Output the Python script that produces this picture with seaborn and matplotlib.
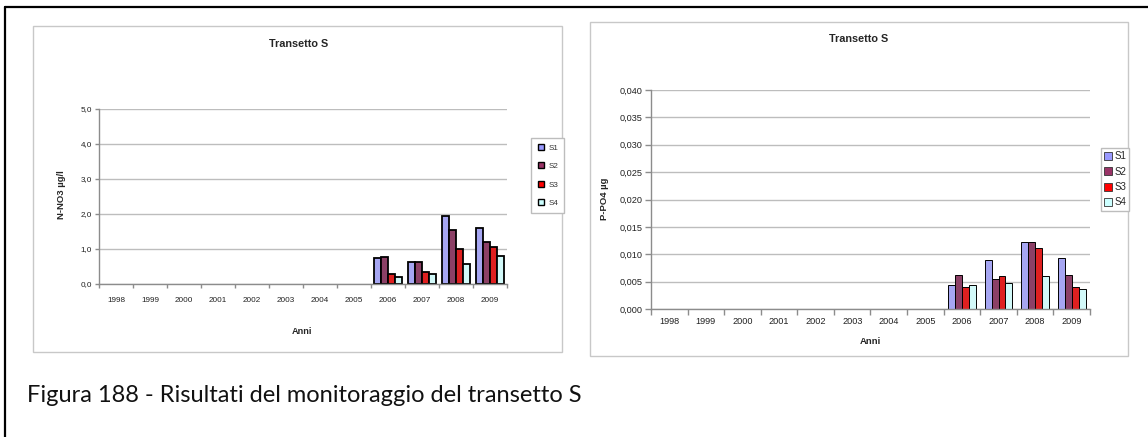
import numpy as np
import pandas as pd
import matplotlib
matplotlib.use("Agg")
import matplotlib.pyplot as plt
from matplotlib.patches import Rectangle
from matplotlib.lines import Line2D
from matplotlib.ticker import FuncFormatter, FixedLocator
import seaborn as sns

# ---- data -------------------------------------------------------------
years = [str(y) for y in range(1998, 2010)]
stations = ["S1", "S2", "S3", "S4"]
colors = ["#9999FF", "#993366", "#FF0000", "#CCFFFF"]

# left panel (nitrogen), years 2006-2009
data_years = ["2006", "2007", "2008", "2009"]
n_s1 = [0.73, 0.62, 1.93, 1.59]
n_s2 = [0.77, 0.62, 1.54, 1.20]
n_s3 = [0.28, 0.34, 1.01, 1.05]
n_s4 = [0.20, 0.28, 0.57, 0.81]

# right panel (phosphate), years 2006-2009
p_s1 = [0.0043, 0.0090, 0.0123, 0.0093]
p_s2 = [0.0063, 0.0054, 0.0122, 0.0062]
p_s3 = [0.0041, 0.0060, 0.0111, 0.0040]
p_s4 = [0.0043, 0.0047, 0.0060, 0.0037]

title = "Transetto S"
xlabel = "Anni"
ylabel_left = "N-NO3 µg/l"
ylabel_right = "P-PO4 µg"
caption = "Figura 188 - Risultati del monitoraggio del transetto S"


def long_frame(series):
    rows = []
    for st, vals in zip(stations, series):
        for yr, v in zip(data_years, vals):
            rows.append({"Anno": yr, "Stazione": st, "val": v})
    return pd.DataFrame(rows)


df_n = long_frame([n_s1, n_s2, n_s3, n_s4])
df_p = long_frame([p_s1, p_s2, p_s3, p_s4])

# ---- figure -------------------------------------------------------------
sns.set_style("white")
plt.rcParams["font.family"] = ["Liberation Sans", "DejaVu Sans"]

W, H = 1148, 437
fig = plt.figure(figsize=(W / 100, H / 100), dpi=100)


def fx(x):
    return x / W


def fy(y):
    return 1 - y / H


def add_axes_px(x0, y0, x1, y1):
    return fig.add_axes([fx(x0), fy(y1), fx(x1 - x0), (y1 - y0) / H])


# outer document frame
fig.add_artist(Line2D([fx(5), 1.0], [fy(7), fy(7)], color="black", lw=1.6))
fig.add_artist(Line2D([fx(5), fx(5)], [fy(7), 0.0], color="black", lw=1.6))

# chart-area boxes
for (x0, y0, x1, y1) in [(33, 26, 562, 352), (590, 22, 1128, 356)]:
    fig.add_artist(Rectangle((fx(x0), fy(y1)), fx(x1 - x0), (y1 - y0) / H,
                             fill=False, edgecolor="#c8c8c8", lw=1.0))

grid_c = "#bdbdbd"
axis_c = "#8c8c8c"


def style_axes(ax, ymax, ystep, fmt, fs, pad_x, tick_len):
    ax.set_ylim(0, ymax)
    ax.set_xlim(-0.5, len(years) - 0.5)
    ax.set_yticks(np.arange(0, ymax + ystep / 2, ystep))
    ax.yaxis.set_major_formatter(FuncFormatter(lambda v, _: fmt(v).replace(".", ",")))
    ax.grid(axis="y", color=grid_c, lw=1.0)
    ax.grid(axis="x", visible=False)
    ax.set_axisbelow(True)
    for s in ["top", "right"]:
        ax.spines[s].set_visible(False)
    for s in ["left", "bottom"]:
        ax.spines[s].set_color(axis_c)
        ax.spines[s].set_linewidth(1.0)
    ax.xaxis.set_minor_locator(FixedLocator(np.arange(-0.5, len(years), 1.0)))
    ax.tick_params(axis="x", which="major", length=0, pad=pad_x, labelsize=fs, colors="#222222")
    ax.tick_params(axis="x", which="minor", length=tick_len, color=axis_c, width=1.0, bottom=True)
    ax.tick_params(axis="y", which="major", length=tick_len, color=axis_c, width=1.0,
                   pad=2, labelsize=fs, left=True, labelcolor="#222222")
    ax.set_xlabel("")
    ax.set_ylabel("")
    ax.set_facecolor("white")


# ---- left panel -----------------------------------------------------------
axL = add_axes_px(99, 109, 507, 284)
sns.barplot(data=df_n, x="Anno", y="val", hue="Stazione", order=years,
            hue_order=stations, palette=colors, width=0.8, edgecolor="black",
            linewidth=1.3, errorbar=None, legend=False, ax=axL)
style_axes(axL, 5.0, 1.0, lambda v: f"{v:.1f}", 5.9, 9, 3)

fig.text(fx(299), fy(44), title, ha="center", va="center", fontsize=7.8, fontweight="bold")
fig.text(fx(302), fy(332), xlabel, ha="center", va="center", fontsize=6.6, fontweight="bold")
fig.text(fx(62), fy(195), ylabel_left, ha="center", va="center", rotation=90,
         fontsize=6.8, fontweight="bold")

handles = [Line2D([], [], marker="s", ls="none", markersize=4.6, markerfacecolor=c,
                  markeredgecolor="black", markeredgewidth=1.0) for c in colors]
legL = fig.legend(handles, stations, loc="upper left",
                  bbox_to_anchor=(fx(531), fy(138)), fontsize=5.8, frameon=True,
                  fancybox=False, edgecolor="#bdbdbd", framealpha=1,
                  handlelength=0.9, handletextpad=0.5, labelspacing=1.35,
                  borderpad=0.75, borderaxespad=0)
legL.get_frame().set_linewidth(1.0)
for t in legL.get_texts():
    t.set_color("#333333")

# ---- right panel ----------------------------------------------------------
axR = add_axes_px(651, 90, 1090, 309)
sns.barplot(data=df_p, x="Anno", y="val", hue="Stazione", order=years,
            hue_order=stations, palette=colors, width=0.76, edgecolor="black",
            linewidth=0.7, errorbar=None, legend=False, ax=axR)
style_axes(axR, 0.040, 0.005, lambda v: f"{v:.3f}", 6.6, 6, 4)

fig.text(fx(859), fy(39), title, ha="center", va="center", fontsize=7.8, fontweight="bold")
fig.text(fx(870), fy(342), xlabel, ha="center", va="center", fontsize=6.8, fontweight="bold")
fig.text(fx(605), fy(199), ylabel_right, ha="center", va="center", rotation=90,
         fontsize=6.8, fontweight="bold")

handles_r = [Line2D([], [], marker="s", ls="none", markersize=5.2, markerfacecolor=c,
                    markeredgecolor="#333333", markeredgewidth=0.6) for c in colors]
legR = fig.legend(handles_r, stations, loc="upper left",
                  bbox_to_anchor=(fx(1101), fy(148)), fontsize=7, frameon=True,
                  fancybox=False, edgecolor="#bdbdbd", framealpha=1,
                  handlelength=0.7, handletextpad=0.3, labelspacing=0.55,
                  borderpad=0.35, borderaxespad=0)
legR.get_frame().set_linewidth(1.0)

# ---- caption --------------------------------------------------------------
fig.text(fx(27), fy(396), caption, ha="left", va="center", fontsize=17,
         family=["Lato", "DejaVu Sans"], color="#111111")

fig.savefig("out.png", dpi=100, facecolor="white")
